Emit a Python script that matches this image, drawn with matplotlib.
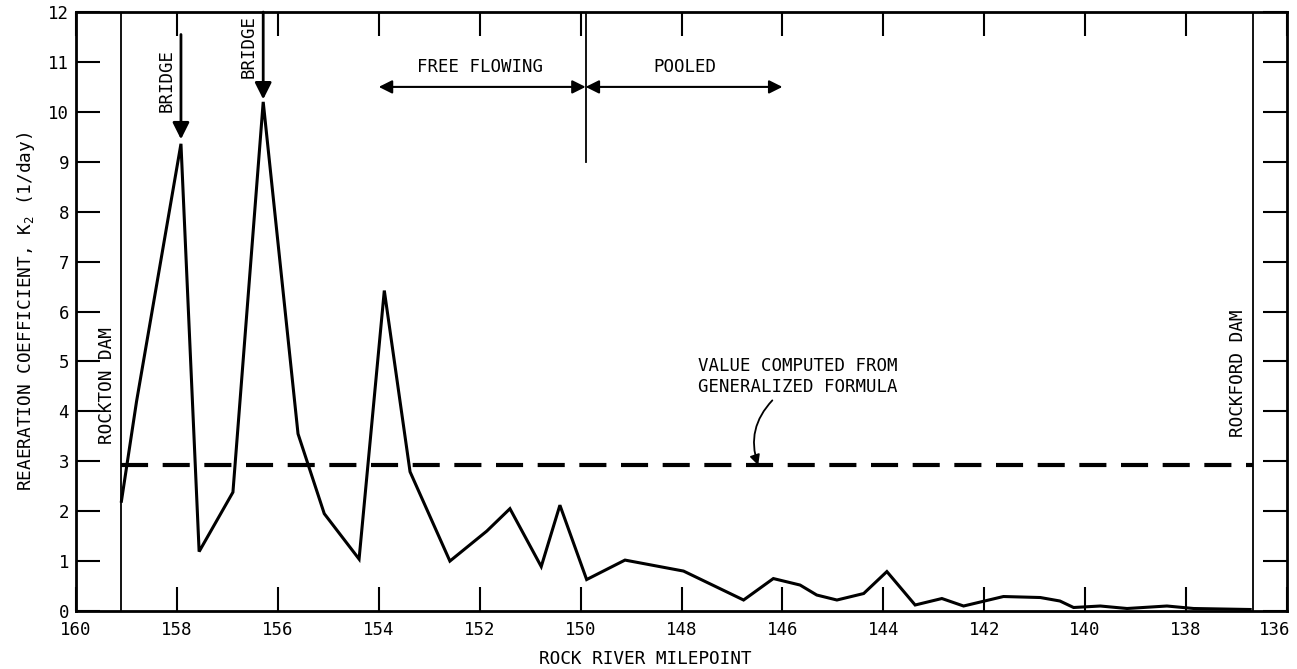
import numpy as np
from matplotlib import pyplot as plt
from matplotlib import rcParams
from matplotlib.transforms import ScaledTranslation

rcParams['font.family'] = 'DejaVu Sans Mono'
rcParams['font.size'] = 12

# river milepoints and reaeration coefficients
milepoint = [159.1, 158.8, 157.92, 157.56, 156.89, 156.29, 155.6, 155.08, 154.39,
             153.89, 153.38, 152.59, 151.86, 151.4, 150.78, 150.41, 149.88, 149.12,
             147.96, 146.77, 146.18, 145.65, 145.32, 144.92, 144.39, 143.93, 143.37,
             142.84, 142.41, 141.62, 140.89, 140.5, 140.23, 139.7, 139.17, 138.38,
             137.85, 136.73]
k2 = [2.2, 4.2, 9.36, 1.19, 2.38, 10.2, 3.55, 1.95, 1.04,
      6.42, 2.79, 1.0, 1.6, 2.05, 0.89, 2.12, 0.63, 1.02,
      0.8, 0.22, 0.65, 0.52, 0.32, 0.22, 0.35, 0.79, 0.12,
      0.25, 0.1, 0.29, 0.27, 0.2, 0.07, 0.1, 0.05, 0.1,
      0.05, 0.03]

k2_formula = 2.92
rockton_dam = 159.1
rockford_dam = 136.67
reach_split = 149.9
bridges = [157.92, 156.29]
bridge_k2 = [9.45, 10.25]

xticks = [160, 158, 156, 154, 152, 150, 148, 146, 144, 142, 140, 138, 136]
yticks = list(range(13))

fig = plt.figure(figsize=(12.97, 6.69), dpi=100)
ax = fig.add_axes([0.0586, 0.0867, 0.9337, 0.8953])

ax.plot(milepoint, k2, color='k', lw=2.2, solid_joinstyle='miter')
ax.plot([rockton_dam, rockford_dam], [k2_formula, k2_formula], color='k', lw=3,
        dashes=(6.5, 3.5))
ax.axvline(rockton_dam, color='k', lw=1.3)
ax.axvline(rockford_dam, color='k', lw=1.3)
ax.plot([reach_split, reach_split], [9.0, 12], color='k', lw=1.3)

ax.text(159.39, 4.52, 'ROCKTON DAM', rotation=90, ha='center', va='center', fontsize=12.7)
ax.text(136.97, 4.76, 'ROCKFORD DAM', rotation=90, ha='center', va='center', fontsize=12.7)

for b, kb, ytop in zip(bridges, bridge_k2, [11.55, 12.0]):
    ax.annotate('', xy=(b, kb), xytext=(b, ytop),
                arrowprops=dict(arrowstyle='-|>', color='k', lw=2, mutation_scale=25,
                                shrinkA=0, shrinkB=0))
ax.text(158.2, 10.62, 'BRIDGE', rotation=90, ha='center', va='center', fontsize=12.5)
ax.text(156.58, 11.3, 'BRIDGE', rotation=90, ha='center', va='center', fontsize=12.5)

ax.annotate('', xy=(154.0, 10.5), xytext=(reach_split, 10.5),
            arrowprops=dict(arrowstyle='<|-|>', color='k', lw=1.5, mutation_scale=20,
                            shrinkA=0, shrinkB=0))
ax.annotate('', xy=(146.0, 10.5), xytext=(reach_split, 10.5),
            arrowprops=dict(arrowstyle='<|-|>', color='k', lw=1.5, mutation_scale=20,
                            shrinkA=0, shrinkB=0))
ax.text(152.0, 10.72, 'FREE FLOWING', ha='center', va='bottom', fontsize=12.5)
ax.text(147.93, 10.72, 'POOLED', ha='center', va='bottom', fontsize=12.5)

ax.text(145.7, 4.7, 'VALUE COMPUTED FROM\nGENERALIZED FORMULA', ha='center', va='center',
        fontsize=12.5, linespacing=1.25)
ax.annotate('', xy=(146.48, k2_formula), xytext=(146.2, 4.22),
            arrowprops=dict(arrowstyle='-|>', color='k', lw=1.3, mutation_scale=15,
                            shrinkA=0, shrinkB=0, connectionstyle='arc3,rad=0.3'))

ax.set_xlim(160, 136)
ax.set_ylim(0, 12)
ax.set_xticks(xticks)
ax.set_yticks(yticks)
ax.tick_params(direction='in', length=17, width=1.5, top=True, right=True,
               labelsize=12.5, pad=5)
ax.tick_params(axis='x', pad=7)
for s in ax.spines.values():
    s.set_linewidth(2)

# last milepoint label sits a little left of its tick, as in the original
last = ax.get_xticklabels()[-1]
last.set_transform(last.get_transform() + ScaledTranslation(-12 / 100, 0, fig.dpi_scale_trans))

ax.set_xlabel('ROCK RIVER MILEPOINT', fontsize=12.8, x=0.47, labelpad=8)
ax.set_ylabel(r'REAERATION COEFFICIENT, K$_\mathregular{2}$ (1/day)', fontsize=12.8, labelpad=8)

plt.savefig('out.png', dpi=100)
